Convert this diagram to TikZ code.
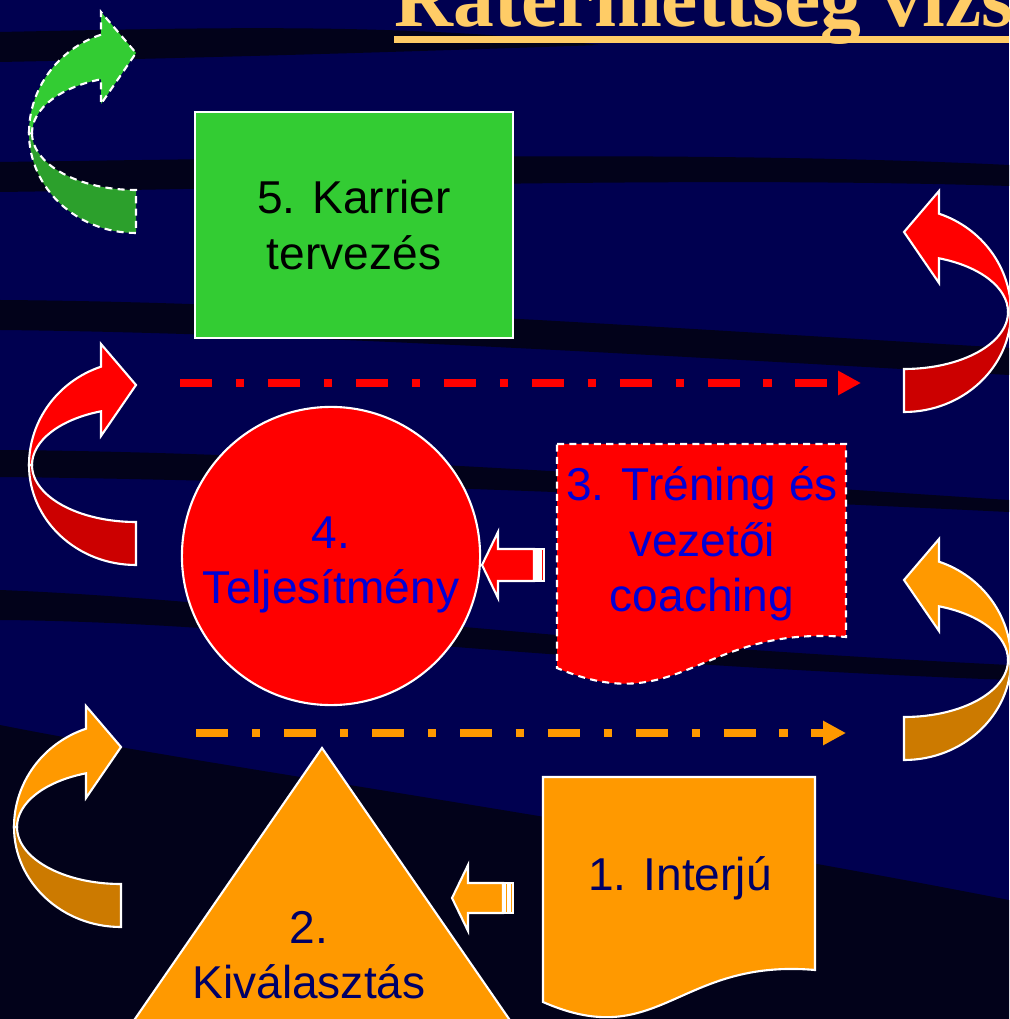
\documentclass[tikz,border=0pt]{standalone}
\usepackage{fontspec}
\setmainfont{Liberation Sans}
\newfontfamily\titlefont{Liberation Serif}
\usetikzlibrary{arrows.meta}

\definecolor{bgnavy}{RGB}{0,0,80}
\definecolor{bgdark}{RGB}{2,2,26}
\definecolor{titlegold}{RGB}{255,204,102}
\definecolor{redA}{RGB}{255,0,0}
\definecolor{redB}{RGB}{204,0,0}
\definecolor{orangeA}{RGB}{255,153,0}
\definecolor{orangeB}{RGB}{204,122,0}
\definecolor{greenA}{RGB}{51,204,51}
\definecolor{greenB}{RGB}{44,160,44}
\definecolor{textblue}{RGB}{0,0,214}
\definecolor{textnavy}{RGB}{0,0,102}

\tikzset{
  ribbon/.style={draw=white, line width=0.6pt},
  shapeline/.style={draw=white, line width=0.6pt},
  boxtext/.style={align=center, inner sep=0pt, font=\fontsize{13.1}{15.8}\selectfont},
  flowline/.style={line width=2.1pt, dash pattern=on 9.1pt off 6.8pt on 2.3pt off 6.8pt,
    -{Triangle[length=6.5pt,width=6.5pt]}},
}

% curved arrow: crossing point, side (1 left, -1 right), front colour, back colour, extra
\newcommand{\curvedarrow}[5]{%
  \begin{scope}[shift={#1}, xscale=#2]
    \filldraw[ribbon, fill=#4, #5] (0,0) .. controls (0,31.5) and (46.6,57) .. (104,57)
      -- (104,100) .. controls (44.9,100) and (-3,55.2) .. (-3,0) -- cycle;
    \filldraw[ribbon, fill=#3, #5] (-3,0) .. controls (-3,-44.4) and (26,-83.9) .. (69,-98.3)
      -- (69,-121) -- (104,-80) -- (69,-29) -- (69,-53.7)
      .. controls (27.6,-45.6) and (0,-24.1) .. (0,0) -- cycle;
  \end{scope}}

\begin{document}
\begin{tikzpicture}[x=0.01cm, y=-0.01cm]
    \useasboundingbox (0,0) rectangle (1009,1019);
    \clip (0,0) rectangle (1009,1019);

    % background
    \fill[bgnavy] (0,0) rectangle (1009,1019);
    \fill[bgdark] (0,32) .. controls (200,28) and (400,22) .. (600,45) .. controls (400,52) and (200,58) .. (0,62) -- cycle;
    \fill[bgdark] (0,162) .. controls (300,158) and (700,150) .. (1009,165) -- (1009,186) .. controls (700,176) and (300,188) .. (0,192) -- cycle;
    \fill[bgdark] (0,300) .. controls (300,302) and (700,330) .. (1009,348) -- (1009,375) .. controls (700,358) and (300,333) .. (0,330) -- cycle;
    \fill[bgdark] (0,450) .. controls (300,452) and (700,480) .. (1009,500) -- (1009,512) .. controls (700,497) and (300,480) .. (0,477) -- cycle;
    \fill[bgdark] (0,590) .. controls (250,600) and (500,640) .. (1009,665) -- (1009,680) .. controls (500,660) and (250,622) .. (0,620) -- cycle;
    \fill[bgdark] (0,725) .. controls (200,765) and (600,820) .. (1009,900) -- (1009,1019) -- (0,1019) -- cycle;

    % title
    \node[anchor=base west, inner sep=0pt, text=titlegold, font=\titlefont\bfseries\fontsize{23.2}{28}\selectfont] (title) at (394,27) {Rátermettség vizsgálat};
    \fill[titlegold] (394,36) rectangle (1009,43);

    % steps
    \node[shapeline, fill=greenA, minimum width=3.18cm, minimum height=2.26cm, boxtext] (karrier) at (354,225) {5. Karrier\\tervezés};

    \node[circle, shapeline, fill=redA, minimum size=2.98cm,
      label={[boxtext, text=textblue, yshift=-0.09cm]center:{4.\\Teljesítmény}}] (teljes) at (331,556) {};

    \filldraw[shapeline, fill=redA, dash pattern=on 2pt off 1.5pt] (557,444) -- (846,444) -- (846,637) .. controls (700,625) and (680,720) .. (557,668) -- cycle;
    \node[boxtext, text=textblue] (trening) at (702,544) {3. Tréning és\\vezetői\\coaching};

    \filldraw[shapeline, fill=orangeA] (543,777) -- (815,777) -- (815,970) .. controls (678,958) and (659,1053) .. (543,1002) -- cycle;
    \node[boxtext, text=textnavy] (interju) at (680,878) {1. Interjú};

    \filldraw[shapeline, fill=orangeA] (322,748) -- (565,1100) -- (79,1100) -- cycle;
    \node[boxtext, text=textnavy] (kival) at (309,955) {2.\\Kiválasztás};

    % block arrows
    \filldraw[shapeline, fill=redA] (482,565) -- (498,532) -- (498,549) -- (534,549) -- (534,581) -- (498,581) -- (498,598) -- cycle;
    \filldraw[shapeline, fill=redA] (536,549) rectangle (538.5,581);
    \filldraw[shapeline, fill=redA] (540.5,549) rectangle (544,581);

    \filldraw[shapeline, fill=orangeA] (452,898) -- (468,865) -- (468,883) -- (503,883) -- (503,913) -- (468,913) -- (468,931) -- cycle;
    \filldraw[shapeline, fill=orangeA] (505,883) rectangle (508,913);
    \filldraw[shapeline, fill=orangeA] (509.5,883) rectangle (513,913);

    % dash-dot arrows
    \coordinate (redstart) at (180,383);
    \coordinate (redend) at (861,383);
    \coordinate (orangestart) at (196,733);
    \coordinate (orangeend) at (846,733);
    \draw[flowline, redA] (redstart) -- (redend);
    \draw[flowline, orangeA] (orangestart) -- (orangeend);

    % curved arrows
    \curvedarrow{(32,133)}{1}{greenA}{greenB}{dash pattern=on 2pt off 1.5pt}
    \curvedarrow{(32,465)}{1}{redA}{redB}{}
    \curvedarrow{(17,827)}{1}{orangeA}{orangeB}{}
    \curvedarrow{(1008,312)}{-1}{redA}{redB}{}
    \curvedarrow{(1008,660)}{-1}{orangeA}{orangeB}{}
\end{tikzpicture}
\end{document}
